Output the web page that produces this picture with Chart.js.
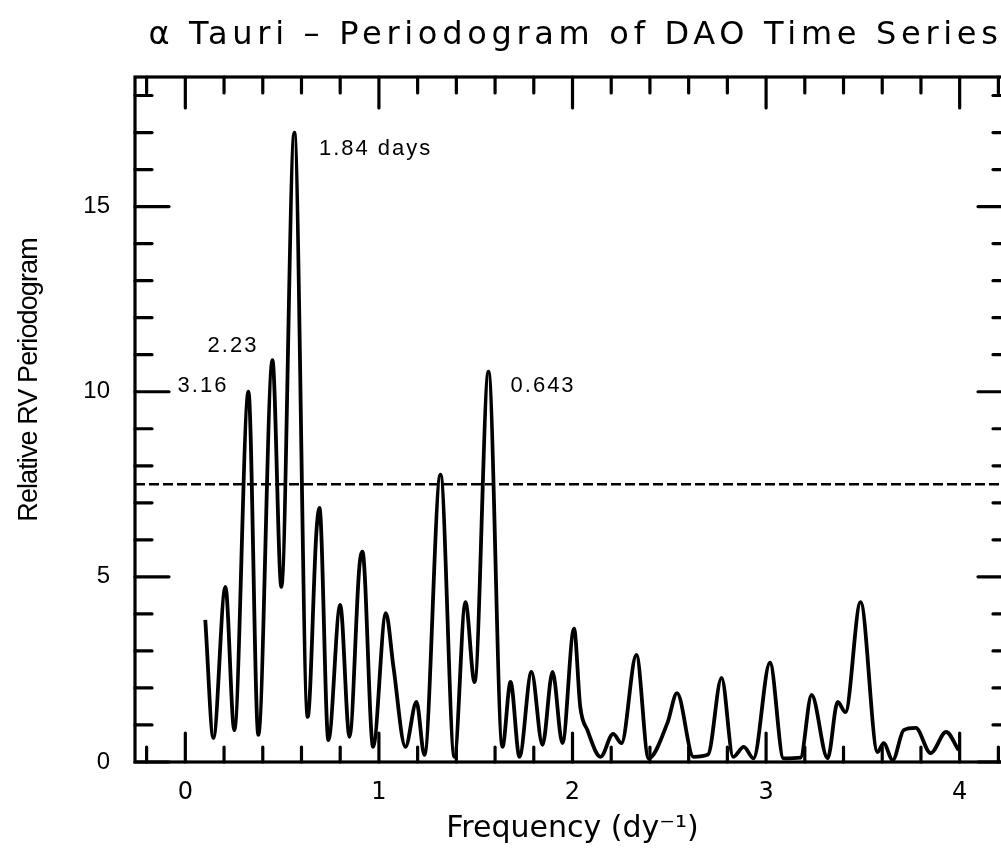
<!DOCTYPE html>
<html>
<head>
<meta charset="utf-8">
<script src="https://cdn.jsdelivr.net/npm/chart.js@4"></script>
<style>
  html, body { margin: 0; padding: 0; background: #fff; overflow: hidden; }
  canvas { display: block; }
</style>
</head>
<body>
<canvas id="chart" width="1012" height="848"></canvas>
<script>
// === alpha Tauri - periodogramma serie DAO ===

// frequenze (1/giorno) e potenza relativa
const freq = [
  0.103, 0.145, 0.207, 0.253, 0.326, 0.377, 0.450, 0.496, 0.563, 0.632,
  0.677, 0.693, 0.739, 0.800, 0.848, 0.899, 0.915, 0.970, 1.036, 1.075,
  1.137, 1.194, 1.235, 1.318, 1.390, 1.447, 1.494, 1.566, 1.638, 1.680,
  1.726, 1.788, 1.845, 1.897, 1.948, 2.008, 2.040, 2.077, 2.145, 2.210,
  2.253, 2.330, 2.393, 2.490, 2.540, 2.625, 2.700, 2.770, 2.830, 2.885,
  2.935, 3.020, 3.090, 3.178, 3.235, 3.318, 3.370, 3.410, 3.488, 3.576,
  3.607, 3.654, 3.711, 3.773, 3.850, 3.930, 3.995
];
const power = [
  3.84, 0.65, 4.73, 0.86, 10.0, 0.73, 10.85, 4.73, 17.0, 1.22,
  6.2, 6.86, 0.59, 4.24, 0.68, 5.27, 5.68, 0.41, 4.02, 2.57,
  0.41, 1.62, 0.19, 7.76, 0.14, 4.32, 2.16, 10.54, 0.41, 2.16,
  0.14, 2.43, 0.46, 2.43, 0.51, 3.6, 1.49, 0.86, 0.14, 0.76,
  0.51, 2.89, 0.10, 1.05, 1.86, 0.14, 0.2, 2.27, 0.14, 0.41,
  0.10, 2.68, 0.10, 0.12, 1.81, 0.10, 1.62, 1.35, 4.32, 0.27,
  0.51, 0.05, 0.86, 0.92, 0.24, 0.81, 0.32
];

// soglia tratteggiata
const threshold = 7.5;

// assi
const xMin = -0.26, xMax = 4.26;
const yMin = 0, yMax = 18.5;
const xLabelTicks = [0, 1, 2, 3, 4];
const yLabelTicks = [0, 5, 10, 15];
const xTickMarks = [-0.2, 0, 0.2, 0.4, 0.6, 0.8, 1, 1.2, 1.4, 1.6, 1.8, 2,
  2.2, 2.4, 2.6, 2.8, 3, 3.2, 3.4, 3.6, 3.8, 4, 4.2];
const yTickMarks = [0, 1, 2, 3, 4, 5, 6, 7, 8, 9, 10, 11, 12, 13, 14, 15, 16, 17, 18];

// etichette dei picchi (periodo in giorni)
const peakLabels = ["3.16", "2.23", "1.84 days", "0.643"];
const peakLabelX = [-0.04, 0.115, 0.69, 1.68];
const peakLabelY = [10.15, 11.25, 16.55, 10.15];

const chartTitle = "\u03b1 Tauri \u2013 Periodogram of DAO Time Series";
const yTitle = "Relative RV Periodogram";
const xTitle = "Frequency (dy\u207b\u00b9)";

// Cornice, tacche interne, titoli ed etichette
const framePlugin = {
  id: "frame",
  afterDraw(chart) {
    const { ctx, chartArea: a, scales: { x, y } } = chart;
    ctx.save();
    ctx.strokeStyle = "#000";
    ctx.lineWidth = 3.2;
    ctx.lineCap = "round";
    ctx.strokeRect(a.left, a.top, a.right - a.left, a.bottom - a.top);

    const seg = (x1, y1, x2, y2) => {
      ctx.beginPath();
      ctx.moveTo(x1, y1);
      ctx.lineTo(x2, y2);
      ctx.stroke();
    };
    xTickMarks.forEach(v => {
      const px = x.getPixelForValue(v);
      const big = xLabelTicks.includes(v);
      seg(px, a.bottom, px, a.bottom - (big ? 29 : 15));
      seg(px, a.top, px, a.top + (big ? 31 : 16));
    });
    yTickMarks.forEach(v => {
      const py = y.getPixelForValue(v);
      const big = yLabelTicks.includes(v);
      seg(a.left, py, a.left + (big ? 34 : 17), py);
      seg(a.right, py, a.right - (big ? 32 : 17), py);
    });

    // titolo
    ctx.fillStyle = "#000";
    ctx.font = "32px 'DejaVu Sans'";
    ctx.letterSpacing = "4.7px";
    ctx.textAlign = "center";
    ctx.textBaseline = "middle";
    ctx.fillText(chartTitle, (a.left + a.right) / 2 + 3, 36);

    // etichette picchi
    ctx.font = "22px 'Liberation Sans'";
    ctx.letterSpacing = "2px";
    ctx.textAlign = "left";
    peakLabels.forEach((t, i) => {
      ctx.fillText(t, x.getPixelForValue(peakLabelX[i]), y.getPixelForValue(peakLabelY[i]));
    });

    // titolo asse y
    ctx.font = "27px 'Liberation Sans'";
    ctx.letterSpacing = "-0.9px";
    ctx.translate(30, 380);
    ctx.rotate(-Math.PI / 2);
    ctx.textAlign = "center";
    ctx.fillText(yTitle, 0, 0);
    ctx.restore();
  }
};

const ctx = document.getElementById("chart").getContext("2d");
const chart = new Chart(ctx, {
  type: "scatter",
  data: {
    datasets: [
      {
        data: freq.map((f, i) => ({ x: f, y: power[i] })),
        showLine: true,
        borderColor: "#000",
        borderWidth: 3.8,
        pointRadius: 0,
        cubicInterpolationMode: "monotone",
        fill: false
      },
      {
        data: [{ x: xMin, y: threshold }, { x: xMax, y: threshold }],
        showLine: true,
        borderColor: "#000",
        borderWidth: 2.4,
        borderDash: [10, 4],
        pointRadius: 0
      }
    ]
  },
  options: {
    responsive: false,
    animation: false,
    layout: { padding: { top: 77, right: 2, left: 0, bottom: 0 } },
    plugins: {
      legend: { display: false },
      tooltip: { enabled: false }
    },
    scales: {
      x: {
        type: "linear",
        min: xMin,
        max: xMax,
        afterBuildTicks: s => { s.ticks = xLabelTicks.map(v => ({ value: v })); },
        afterFit: s => { s.height = 86; },
        grid: { display: false, drawTicks: false },
        border: { display: false },
        ticks: {
          color: "#000",
          padding: 16,
          font: { family: "'DejaVu Sans'", size: 24 },
          callback: v => String(v)
        },
        title: {
          display: true,
          text: xTitle,
          color: "#000",
          font: { family: "'DejaVu Sans'", size: 30 },
          padding: { bottom: 1 }
        }
      },
      y: {
        min: yMin,
        max: yMax,
        afterBuildTicks: s => { s.ticks = yLabelTicks.map(v => ({ value: v })); },
        afterFit: s => { s.width = 135; },
        grid: { display: false, drawTicks: false },
        border: { display: false },
        ticks: {
          color: "#000",
          padding: 25,
          font: { family: "'Liberation Sans'", size: 24 },
          callback: v => String(v)
        }
      }
    }
  },
  plugins: [framePlugin]
});
</script>
</body>
</html>
